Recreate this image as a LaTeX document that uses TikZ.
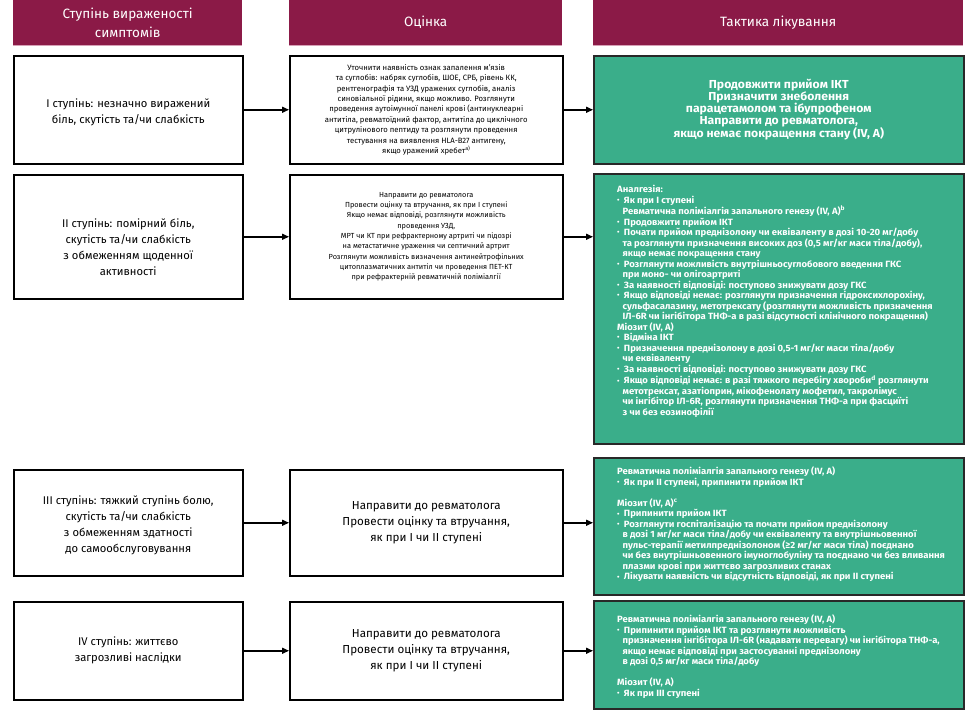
\documentclass[tikz,border=0pt]{standalone}
\usepackage{fontspec}
\usepackage{graphicx}
\setmainfont{Fira Sans}
\newfontfamily\gfont{Fira Sans}[FakeStretch=1.05]
\usetikzlibrary{arrows.meta}
\definecolor{hdr}{RGB}{139,26,71}
\definecolor{hdrline}{RGB}{214,160,182}
\definecolor{grn}{RGB}{58,174,138}
\definecolor{edge}{RGB}{40,40,40}
\newcommand{\bul}{\makebox[0.75em][l]{\raisebox{0.15ex}{\scalebox{0.75}{•}}}}
\newcommand{\ind}{\hspace*{0.6em}}
\tikzset{
  hdrbox/.style={fill=hdr, draw=none, anchor=north west, inner sep=0pt, text=white, align=center, font=\fontsize{13.5}{18.5}\selectfont},
  hdrrule/.style={draw=hdrline, line width=1.6pt},
  wbox/.style={draw=black, line width=1.5pt, fill=white, anchor=north west, inner sep=0pt, align=center},
  gbox/.style={draw=edge, line width=1.5pt, fill=grn, anchor=north west, inner sep=0pt, text=white, align=center},
  bigtxt/.style={font=\fontsize{11.2}{16}\selectfont},
  midtxt/.style={font=\fontsize{11.6}{15.7}\selectfont},
  plain/.style={inner sep=0pt, align=center},
  smalltxt/.style={font=\fontsize{7.7}{10.4}\selectfont},
  gtxt/.style={anchor=north west, inner sep=0pt, text=white, align=left, font=\gfont\bfseries\fontsize{9.05}{10.5}\selectfont},
  arr/.style={draw=black, line width=1.5pt, -{Triangle[length=7pt,width=6pt]}},
}
\begin{document}
\begin{tikzpicture}[x=1pt,y=-1pt]
\useasboundingbox[fill=white] (0,0) rectangle (976,710);
% headers
\node[hdrbox, minimum width=229pt, minimum height=45pt] (h1) at (13,0) {Ступінь вираженості\\симптомів};
\node[hdrbox, minimum width=273pt, minimum height=45pt] (h2) at (289,0) {Оцінка};
\node[hdrbox, minimum width=370pt, minimum height=45pt] (h3) at (593,0) {Тактика лікування};
\draw[hdrrule] (h1.south west) -- (h1.south east);
\draw[hdrrule] (h2.south west) -- (h2.south east);
\draw[hdrrule] (h3.south west) -- (h3.south east);
% row 1
\node[wbox, minimum width=229pt, minimum height=108pt] (l1) at (13,55) {};
\node[plain, bigtxt] (l1t) at ([yshift=-3pt]l1.center) {І ступінь: незначно виражений\\біль, скутість та/чи слабкість};
\node[wbox, smalltxt, minimum width=273pt, minimum height=108pt] (m1) at (289,55) {Уточнити наявність ознак запалення м'язів\\та суглобів: набряк суглобів, ШОЕ, СРБ, рівень КК,\\рентгенографія та УЗД уражених суглобів, аналіз\\синовіальної рідини, якщо можливо. Розглянути\\проведення аутоімунної панелі крові (антинуклеарні\\антитіла, ревматоїдний фактор, антитіла до циклічного\\цитрулінового пептиду та розглянути проведення\\тестування на виявлення HLA-B27 антигену,\\якщо уражений хребет\textsuperscript{а)}};
\node[gbox, minimum width=370pt, minimum height=108pt, font=\gfont\bfseries\fontsize{11.6}{12}\selectfont] (r1) at (593,55) {Продовжити прийом ІКТ\\Призначити знеболення\\парацетамолом та ібупрофеном\\Направити до ревматолога,\\якщо немає покращення стану (IV, A)};
% row 2
\node[wbox, minimum width=229pt, minimum height=124pt] (l2) at (13,174) {};
\node[plain, bigtxt] (l2t) at ([yshift=-10pt]l2.center) {ІІ ступінь: помірний біль,\\скутість та/чи слабкість\\з обмеженням щоденної\\активності};
\node[wbox, font=\fontsize{7.35}{10.3}\selectfont, minimum width=273pt, minimum height=124pt] (m2) at (289,174) {Направити до ревматолога\\Провести оцінку та втручання, як при І ступені\\Якщо немає відповіді, розглянути можливість\\проведення УЗД,\\МРТ чи КТ при рефрактерному артриті чи підозрі\\на метастатичне ураження чи септичний артрит\\Розглянути можливість визначення антинейтрофільних\\цитоплазматичних антитіл чи проведення ПЕТ-КТ\\при рефрактерній ревматичній поліміалгії};
\node[gbox, minimum width=370pt, minimum height=270pt] (r2) at (593,173) {};
\node[gtxt] (t2) at (617,185) {Аналгезія:\\
\bul Як при І ступені\\
\ind Ревматична поліміалгія запального генезу (IV, A)\textsuperscript{b}\\
\bul Продовжити прийом ІКТ\\
\bul Почати прийом преднізолону чи еквіваленту в дозі 10-20 мг/добу\\
\ind та розглянути призначення високих доз (0,5 мг/кг маси тіла/добу),\\
\ind якщо немає покращення стану\\
\bul Розглянути можливість внутрішньосуглобового введення ГКС\\
\ind при моно- чи олігоартриті\\
\bul За наявності відповіді: поступово знижувати дозу ГКС\\
\bul Якщо відповіді немає: розглянути призначення гідроксихлорохіну,\\
\ind сульфасалазину, метотрексату (розглянути можливість призначення\\
\ind ІЛ-6R чи інгібітора ТНФ-а в разі відсутності клінічного покращення)\\
Міозит (IV, A)\\
\bul Відміна ІКТ\\
\bul Призначення преднізолону в дозі 0,5-1 мг/кг маси тіла/добу\\
\ind чи еквіваленту\\
\bul За наявності відповіді: поступово знижувати дозу ГКС\\
\bul Якщо відповіді немає: в разі тяжкого перебігу хвороби\textsuperscript{d} розглянути\\
\ind метотрексат, азатіоприн, мікофенолату мофетил, такролімус\\
\ind чи інгібітор ІЛ-6R, розглянути призначення ТНФ-а при фасциїті\\
\ind з чи без еозинофілії};
% row 3
\node[wbox, minimum width=229pt, minimum height=106pt] (l3) at (13,469) {};
\node[plain, bigtxt] (l3t) at ([yshift=-3pt]l3.center) {ІІІ ступінь: тяжкий ступінь болю,\\скутість та/чи слабкість\\з обмеженням здатності\\до самообслуговування};
\node[wbox, midtxt, minimum width=273pt, minimum height=106pt] (m3) at (289,469) {Направити до ревматолога\\Провести оцінку та втручання,\\як при І чи ІІ ступені};
\node[gbox, minimum width=370pt, minimum height=137pt] (r3) at (593,457) {};
\node[gtxt] (t3) at (617,467) {Ревматична поліміалгія запального генезу (IV, A)\\
\bul Як при ІІ ступені, припинити прийом ІКТ\\[10.5pt]
Міозит (IV, A)\textsuperscript{c}\\
\bul Припинити прийом ІКТ\\
\bul Розглянути госпіталізацію та почати прийом преднізолону\\
\ind в дозі 1 мг/кг маси тіла/добу чи еквіваленту та внутрішньовенної\\
\ind пульс-терапії метилпреднізолоном (≥2 мг/кг маси тіла) поєднано\\
\ind чи без внутрішньовенного імуноглобуліну та поєднано чи без вливання\\
\ind плазми крові при життєво загрозливих станах\\
\bul Лікувати наявність чи відсутність відповіді, як при ІІ ступені};
% row 4
\node[wbox, bigtxt, minimum width=229pt, minimum height=98pt] (l4) at (13,601) {IV ступінь: життєво\\загрозливі наслідки};
\node[wbox, midtxt, minimum width=273pt, minimum height=98pt] (m4) at (289,601) {Направити до ревматолога\\Провести оцінку та втручання,\\як при І чи ІІ ступені};
\node[gbox, minimum width=370pt, minimum height=108pt] (r4) at (593,600) {};
\node[gtxt] (t4) at (617,615) {Ревматична поліміалгія запального генезу (IV, A)\\
\bul Припинити прийом ІКТ та розглянути можливість\\
\ind призначення інгібітора ІЛ-6R (надавати перевагу) чи інгібітора ТНФ-а,\\
\ind якщо немає відповіді при застосуванні преднізолону\\
\ind в дозі 0,5 мг/кг маси тіла/добу\\[10.5pt]
Міозит (IV, A)\\
\bul Як при ІІІ ступені};
% arrows
\draw[arr] (l1.east) -- (m1.west);
\draw[arr] (m1.east) -- (r1.west);
\draw[arr] (l2.east) -- (m2.west);
\draw[arr] (m2.east) -- (m2.east -| r2.west);
\draw[arr] (l3.east) -- (m3.west);
\draw[arr] (m3.east) -- (m3.east -| r3.west);
\draw[arr] (l4.east) -- (m4.west);
\draw[arr] (m4.east) -- (m4.east -| r4.west);
\end{tikzpicture}
\end{document}
